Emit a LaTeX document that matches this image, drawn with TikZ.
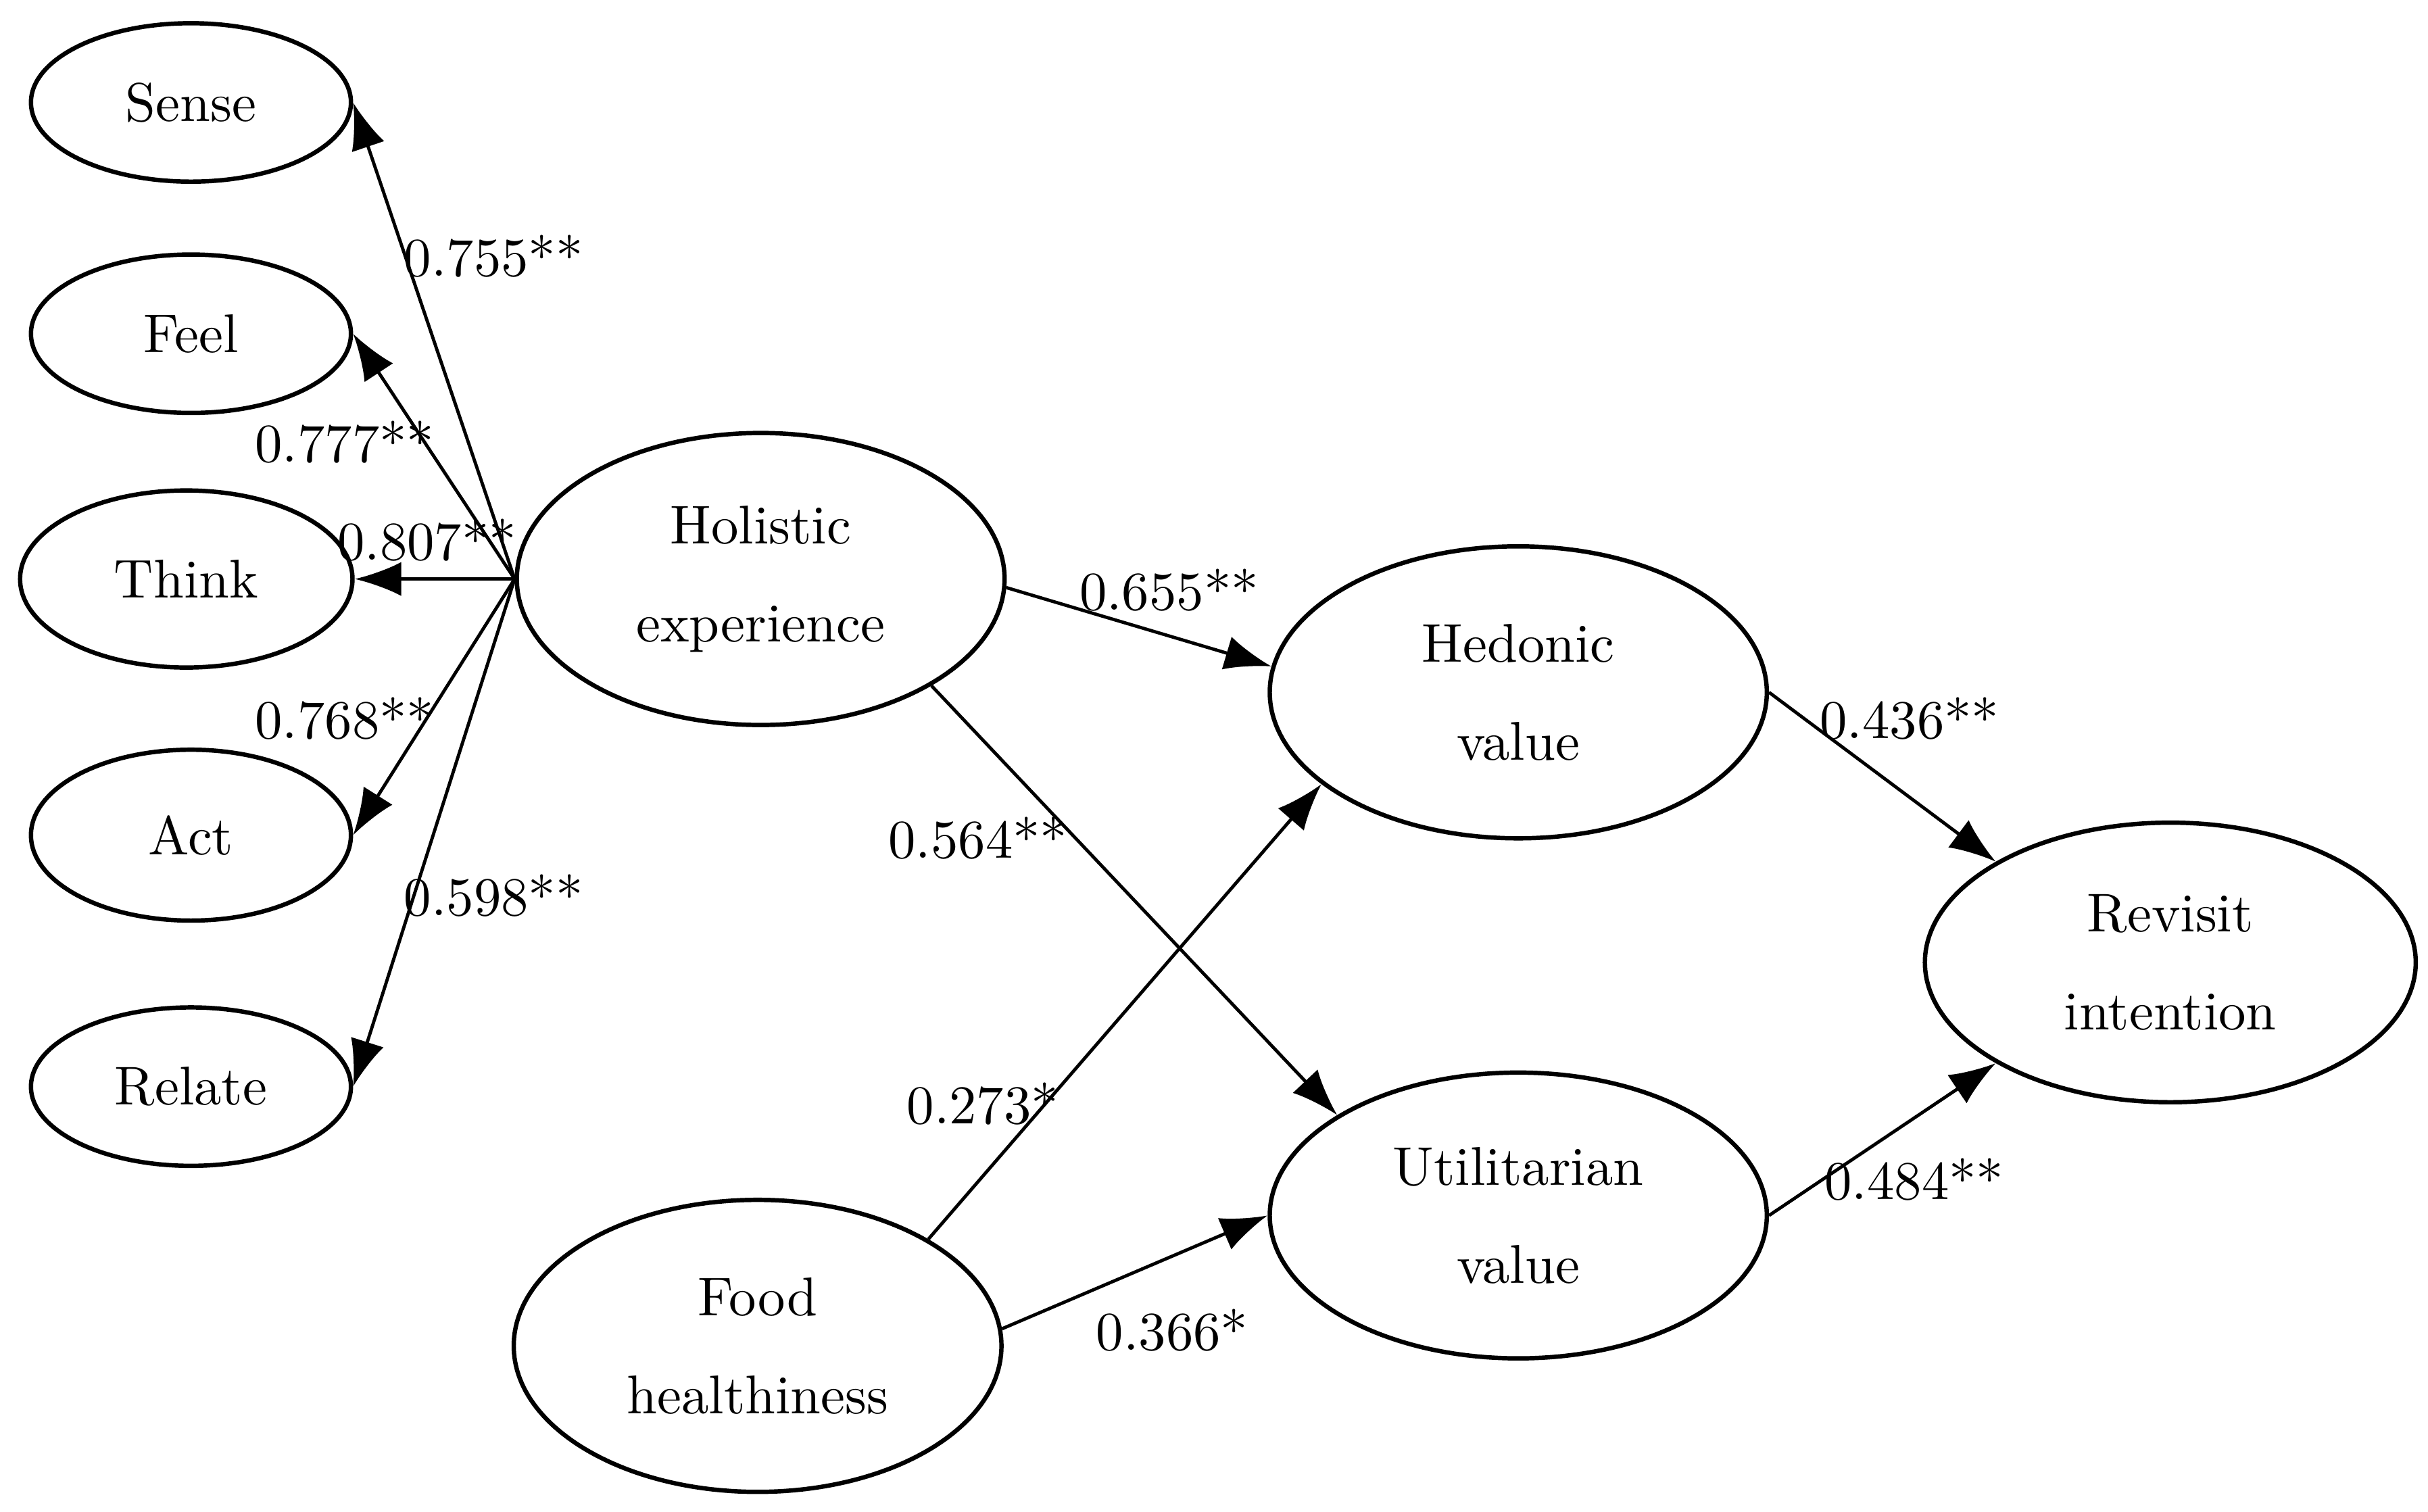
\documentclass[tikz,border=0pt]{standalone}
\usepackage{amsmath}
\usetikzlibrary{shapes.geometric,arrows.meta}

\begin{document}
\begin{tikzpicture}[x=0.01cm, y=-0.01cm,
  every node/.style={font=\normalsize},
  lv/.style={draw, ellipse, thick, align=center, inner sep=0pt},
  ind/.style={lv, minimum width=2.06cm, minimum height=1.02cm},
  big/.style={lv, minimum width=3.14cm, minimum height=1.88cm},
  path/.style={-{Latex[length=3mm,width=2.2mm]}, semithick}]
	\useasboundingbox (0,0) rectangle (1564,974);
	% indicators
	\node[ind] (sense) at (123,66) {Sense};
	\node[ind] (feel) at (123,215) {Feel};
	\node[ind, minimum width=2.14cm, minimum height=1.14cm] (think) at (120,373) {Think};
	\node[ind, minimum height=1.1cm] (act) at (123,538) {Act};
	\node[ind] (relate) at (123,700) {Relate};
	
	% constructs
	\node[big] (hol) at (490,373) {Holistic\\[6pt]experience};
	\node[big] (food) at (488,867) {Food\\[6pt]healthiness};
	\node[big, minimum width=3.2cm] (hed) at (978,446) {Hedonic\\[6pt]value};
	\node[big, minimum width=3.2cm, minimum height=1.84cm] (util) at (978,783) {Utilitarian\\[6pt]value};
	\node[big, minimum width=3.16cm, minimum height=1.8cm] (rev) at (1398,620) {Revisit\\[6pt]intention};
	
	% loadings
	\draw[path] (hol.west) -- (sense.east);
	\draw[path] (hol.west) -- (feel.east);
	\draw[path] (hol.west) -- (think.east);
	\draw[path] (hol.west) -- (act.east);
	\draw[path] (hol.west) -- (relate.east);
	\node at (318,165) {0.755**};
	\node at (222,285) {0.777**};
	\node at (275,348) {0.807**};
	\node at (222,463) {0.768**};
	\node at (318,577) {0.598**};
	
	% structural paths
	\draw[path] (hol.-2) -- (hed.174);
	\draw[path] (hol.-32) -- (util.151);
	\draw[path] (food.32) -- (hed.-155);
	\draw[path] (food.4) -- (util.west);
	\draw[path] (hed.east) -- (rev.150);
	\draw[path] (util.east) -- (rev.210);
	\node at (753,380) {0.655**};
	\node at (630,540) {0.564**};
	\node at (633,711) {0.273*};
	\node at (755,857) {0.366*};
	\node at (1230,463) {0.436**};
	\node at (1233,760) {0.484**};
\end{tikzpicture}
\end{document}
